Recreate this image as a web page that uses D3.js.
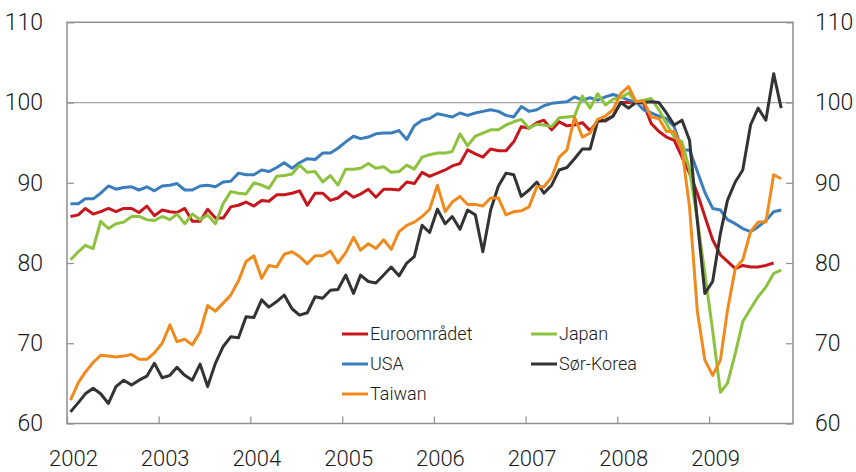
<!DOCTYPE html>
<html>
<head>
<meta charset="utf-8">
<script src="https://cdn.jsdelivr.net/npm/d3@7"></script>
<style>
  html, body { margin: 0; padding: 0; background: #fff; }
  svg { display: block; }
</style>
</head>
<body>
<svg id="chart" width="856" height="472"></svg>
<script>
/* Monthly index, Jan 2002 – Oct 2009 (one value per month) */
const START_YEAR = 2002;
const YEAR_LABELS = ['2002', '2003', '2004', '2005', '2006', '2007', '2008', '2009'];
const Y_TICKS = [60, 70, 80, 90, 100, 110];

const euro = [
  85.8, 86.0, 86.8, 86.1, 86.4, 86.8, 86.4, 86.8, 86.8, 86.3, 87.1, 85.9,
  86.6, 86.4, 86.3, 86.8, 85.2, 85.2, 86.7, 85.6, 85.6, 87.0, 87.2, 87.6,
  87.1, 87.8, 87.7, 88.5, 88.5, 88.7, 89.0, 87.2, 88.7, 88.7, 87.8, 88.1,
  88.9, 88.2, 88.6, 89.2, 88.2, 89.2, 89.2, 89.1, 90.1, 89.9, 91.3, 90.8,
  91.2, 91.6, 92.1, 92.4, 94.1, 93.6, 93.2, 94.2, 94.0, 94.0, 95.1, 97.0,
  96.8, 97.5, 97.8, 96.6, 97.6, 97.1, 97.2, 97.5, 96.5, 97.7, 97.7, 98.3,
  100.0, 100.0, 100.1, 99.9, 97.4, 96.4, 95.7, 95.3, 93.2, 91.2, 88.7, 85.8,
  82.9, 81.0, 80.2, 79.3, 79.7, 79.5, 79.5, 79.7, 80.0
];
const usa = [
  87.4, 87.4, 88.0, 88.0, 88.7, 89.6, 89.2, 89.4, 89.5, 89.1, 89.5, 89.0,
  89.6, 89.7, 89.9, 89.1, 89.1, 89.6, 89.7, 89.5, 90.1, 90.2, 91.2, 91.0,
  91.0, 91.6, 91.4, 91.9, 92.5, 91.8, 92.5, 93.0, 92.9, 93.7, 93.7, 94.3,
  95.1, 95.8, 95.5, 95.7, 96.1, 96.2, 96.2, 96.5, 95.4, 97.1, 97.8, 98.0,
  98.6, 98.4, 98.2, 98.7, 98.4, 98.7, 98.9, 99.1, 98.9, 98.4, 98.2, 99.5,
  98.9, 99.1, 99.6, 99.9, 100.0, 100.1, 100.7, 100.3, 100.6, 100.3, 100.7, 101.0,
  100.7, 100.3, 100.1, 99.1, 98.7, 98.3, 98.0, 97.0, 94.1, 94.1, 91.4, 88.8,
  86.8, 86.6, 85.4, 84.9, 84.3, 83.9, 84.5, 85.3, 86.4, 86.6
];
const japan = [
  80.4, 81.4, 82.2, 81.8, 85.2, 84.3, 84.9, 85.1, 85.8, 85.8, 85.4, 85.3,
  85.8, 85.4, 86.1, 84.9, 86.1, 85.4, 86.0, 84.9, 87.4, 88.9, 88.7, 88.6,
  90.0, 89.7, 89.3, 90.8, 90.9, 91.1, 92.2, 91.3, 91.4, 90.1, 90.9, 89.7,
  91.7, 91.7, 91.8, 92.4, 91.8, 92.0, 91.3, 91.4, 92.2, 91.7, 93.2, 93.5,
  93.7, 93.7, 93.9, 96.1, 94.6, 95.8, 96.2, 96.6, 96.6, 97.2, 97.6, 97.9,
  96.8, 97.3, 97.2, 97.0, 98.1, 98.2, 98.3, 100.8, 99.3, 101.1, 99.7, 100.4,
  100.6, 101.2, 100.1, 100.3, 100.5, 99.1, 97.4, 95.7, 95.1, 91.6, 85.4, 78.7,
  71.6, 63.9, 65.0, 68.7, 72.7, 74.3, 75.8, 77.0, 78.7, 79.1
];
const korea = [
  61.45, 62.6, 63.7, 64.4, 63.7, 62.5, 64.6, 65.4, 64.8, 65.4, 65.9, 67.5,
  65.7, 66.0, 67.0, 66.0, 65.4, 67.4, 64.6, 67.5, 69.6, 70.8, 70.7, 73.3,
  73.2, 75.4, 74.5, 75.2, 76.0, 74.3, 73.5, 73.8, 75.8, 75.6, 76.6, 76.7,
  78.5, 76.2, 78.5, 77.7, 77.5, 78.5, 79.5, 78.4, 80.0, 80.8, 84.7, 83.8,
  86.7, 84.9, 85.8, 84.2, 86.6, 86.0, 81.4, 86.6, 89.6, 91.2, 91.0, 88.3,
  89.1, 90.1, 88.7, 89.7, 91.6, 91.9, 93.0, 94.2, 94.2, 97.7, 97.8, 98.3,
  100.0, 99.3, 100.0, 100.0, 100.1, 100.0, 98.7, 97.2, 97.8, 95.3, 85.3, 76.2,
  77.7, 83.7, 87.8, 90.1, 91.6, 97.2, 99.3, 97.8, 103.6, 99.3
];
const taiwan = [
  62.9, 65.1, 66.4, 67.6, 68.5, 68.4, 68.3, 68.4, 68.6, 68.0, 68.0, 68.8,
  70.0, 72.3, 70.2, 70.5, 69.8, 71.4, 74.7, 74.0, 75.0, 76.0, 77.8, 80.2,
  80.9, 78.1, 79.7, 79.5, 81.1, 81.4, 80.8, 79.9, 80.9, 80.9, 81.5, 80.0,
  81.3, 83.2, 81.6, 82.4, 81.8, 82.9, 81.7, 83.9, 84.7, 85.1, 85.8, 86.7,
  89.7, 86.4, 87.6, 88.3, 87.3, 87.3, 87.1, 88.1, 88.1, 86.0, 86.4, 86.5,
  87.0, 89.5, 89.5, 90.7, 93.2, 94.1, 98.2, 95.7, 96.2, 97.9, 98.3, 99.1,
  101.1, 102.0, 100.1, 100.2, 98.2, 98.0, 96.4, 96.4, 94.1, 87.0, 74.0, 67.9,
  66.0, 67.9, 74.1, 79.3, 80.4, 83.9, 85.1, 85.1, 91.0, 90.5
];

/* ── STYLE ── */
const FONT = "Roboto, 'Liberation Sans', Arial, sans-serif";
const TEXT = '#1a1a1a';
const AXIS = '#8f8f8f';
const C = { euro: '#c8161d', usa: '#3a7dbc', japan: '#8dc23f', korea: '#333333', taiwan: '#f08a1c' };

const L = 67, R = 793, T = 22.3, B = 423.5;

const svg = d3.select('#chart');

const x = d3.scaleTime()
  .domain([new Date(START_YEAR, 0, 1), new Date(2009, 11, 1)])
  .range([L, R]);
const y = d3.scaleLinear().domain([60, 110]).range([B, T]);

const monthDate = i => new Date(START_YEAR, i, 15);

/* reference line at 100 */
svg.append('line')
  .attr('x1', L).attr('x2', R).attr('y1', y(100)).attr('y2', y(100))
  .attr('stroke', '#a5a5a5').attr('stroke-width', 1.3);

/* series */
const line = d3.line().x((_, i) => x(monthDate(i))).y(d => y(d));
[['euro', euro], ['usa', usa], ['japan', japan], ['korea', korea], ['taiwan', taiwan]]
  .forEach(([k, vals]) => {
    svg.append('path').datum(vals)
      .attr('fill', 'none').attr('stroke', C[k])
      .attr('stroke-width', 3).attr('stroke-linejoin', 'round')
      .attr('d', line);
  });

/* frame */
svg.append('rect')
  .attr('x', L).attr('y', T).attr('width', R - L).attr('height', B - T)
  .attr('fill', 'none').attr('stroke', AXIS).attr('stroke-width', 1.5);

function styleAxis(ax, size) {
  ax.select('.domain').remove();
  ax.selectAll('line').attr('stroke', AXIS).attr('stroke-width', 1.2);
  ax.selectAll('text').attr('fill', TEXT)
    .style('font-family', FONT).style('font-size', size + 'px').style('font-weight', 300);
}

/* y axes */
svg.append('g').attr('transform', `translate(${L},0)`)
  .call(d3.axisLeft(y).tickValues(Y_TICKS).tickSizeInner(-7).tickSizeOuter(0).tickPadding(24))
  .call(ax => styleAxis(ax, 23));
svg.append('g').attr('transform', `translate(${R},0)`)
  .call(d3.axisRight(y).tickValues(Y_TICKS).tickSizeInner(-7).tickSizeOuter(0).tickPadding(22))
  .call(ax => styleAxis(ax, 23));

/* x axis */
const yearDates = YEAR_LABELS.map(s => new Date(+s, 0, 1));
svg.append('g').attr('transform', `translate(0,${B})`)
  .call(d3.axisBottom(x).tickValues(yearDates).tickSizeInner(-7).tickSizeOuter(0)
    .tickPadding(27).tickFormat((_, i) => YEAR_LABELS[i]))
  .call(ax => styleAxis(ax, 22))
  .call(ax => ax.selectAll('text').attr('dx', 6));

/* legend */
const LEGEND = [
  { label: 'Euroområdet', key: 'euro',   col: 0, row: 0 },
  { label: 'USA',         key: 'usa',    col: 0, row: 1 },
  { label: 'Taiwan',      key: 'taiwan', col: 0, row: 2 },
  { label: 'Japan',       key: 'japan',  col: 1, row: 0 },
  { label: 'Sør-Korea',   key: 'korea',  col: 1, row: 1 },
];
const colX = [342, 531], rowY = [334, 364, 394];
LEGEND.forEach(d => {
  const g = svg.append('g').attr('transform', `translate(${colX[d.col]},${rowY[d.row]})`);
  g.append('line').attr('x1', 0).attr('x2', 26).attr('y1', 0).attr('y2', 0)
    .attr('stroke', C[d.key]).attr('stroke-width', 3);
  g.append('text').attr('x', 28).attr('y', 0).attr('dy', '0.35em')
    .attr('fill', TEXT).style('font-family', FONT).style('font-size', '18px')
    .style('font-weight', 300).text(d.label);
});
</script>
</body>
</html>
